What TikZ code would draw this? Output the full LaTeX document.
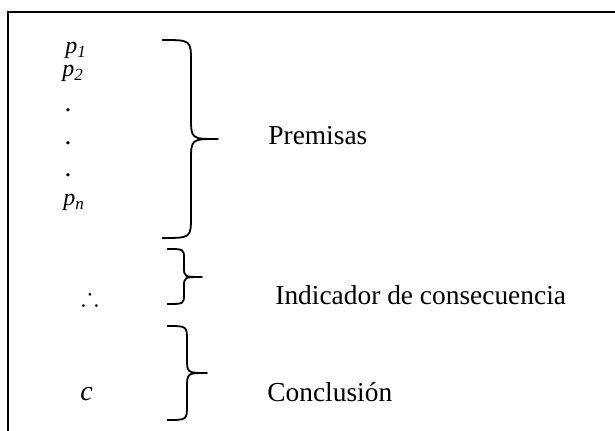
\documentclass[tikz,border=0pt]{standalone}
\usepackage{amssymb}
\usepackage{fontspec}
\setmainfont{Liberation Serif}
\usepackage{tikz}
\usetikzlibrary{positioning}
\tikzstyle{marco} = [line width=1pt]
\tikzstyle{llave} = [line width=0.9pt,line join=round]
\tikzstyle{etiqueta} = [anchor=base west,inner sep=0pt,font=\fontsize{13.7}{16}\selectfont]
\tikzstyle{formula} = [anchor=base west,inner sep=0pt,font=\fontsize{12}{14}\selectfont\itshape]
\tikzstyle{punto} = [inner sep=0pt,font=\fontsize{13.7}{16}\selectfont]
\newcommand{\indice}[1]{\raisebox{-2pt}{\fontsize{8.5}{10}\selectfont #1}}

\begin{document}
\begin{tikzpicture}[x=0.5pt,y=-0.5pt]
    \useasboundingbox (0,0) rectangle (615,431);
    \draw[marco] (8,431) -- (8,12) -- (615,12);
    \node[formula] (p1) at (65,54) {p\indice{1}};
    \node[formula] (p2) at (62,77) {p\indice{2}};
    \node[punto] (d1) at (68,110) {.};
    \node[punto] (d2) at (68,143) {.};
    \node[punto] (d3) at (68,175) {.};
    \node[formula] (pn) at (63,206) {p\indice{n}};
    \node[inner sep=0pt,font=\fontsize{13}{15}\selectfont] (luego) at (90,297) {$\therefore$};
    \node[formula,font=\fontsize{14}{16}\selectfont\itshape] (c) at (80,401) {c};
    \foreach \xe/\xv/\xt/\yt/\ym/\yb/\r in {162/191/218/40/139/238/22, 167/184/202/249/277/304/10, 167/187/207/326/373/420/15}
      \draw[llave] (\xe,\yt) .. controls (\xv,\yt) .. (\xv,\yt+\r) -- (\xv,\ym-\r)
        .. controls (\xv,\ym) .. (\xt,\ym) .. controls (\xv,\ym) .. (\xv,\ym+\r)
        -- (\xv,\yb-\r) .. controls (\xv,\yb) .. (\xe,\yb);
    \node[etiqueta] (premisas) at (268,145) {Premisas};
    \node[etiqueta] (indicador) at (275,305) {Indicador de consecuencia};
    \node[etiqueta] (conclusion) at (267,402) {Conclusión};
\end{tikzpicture}
\end{document}
